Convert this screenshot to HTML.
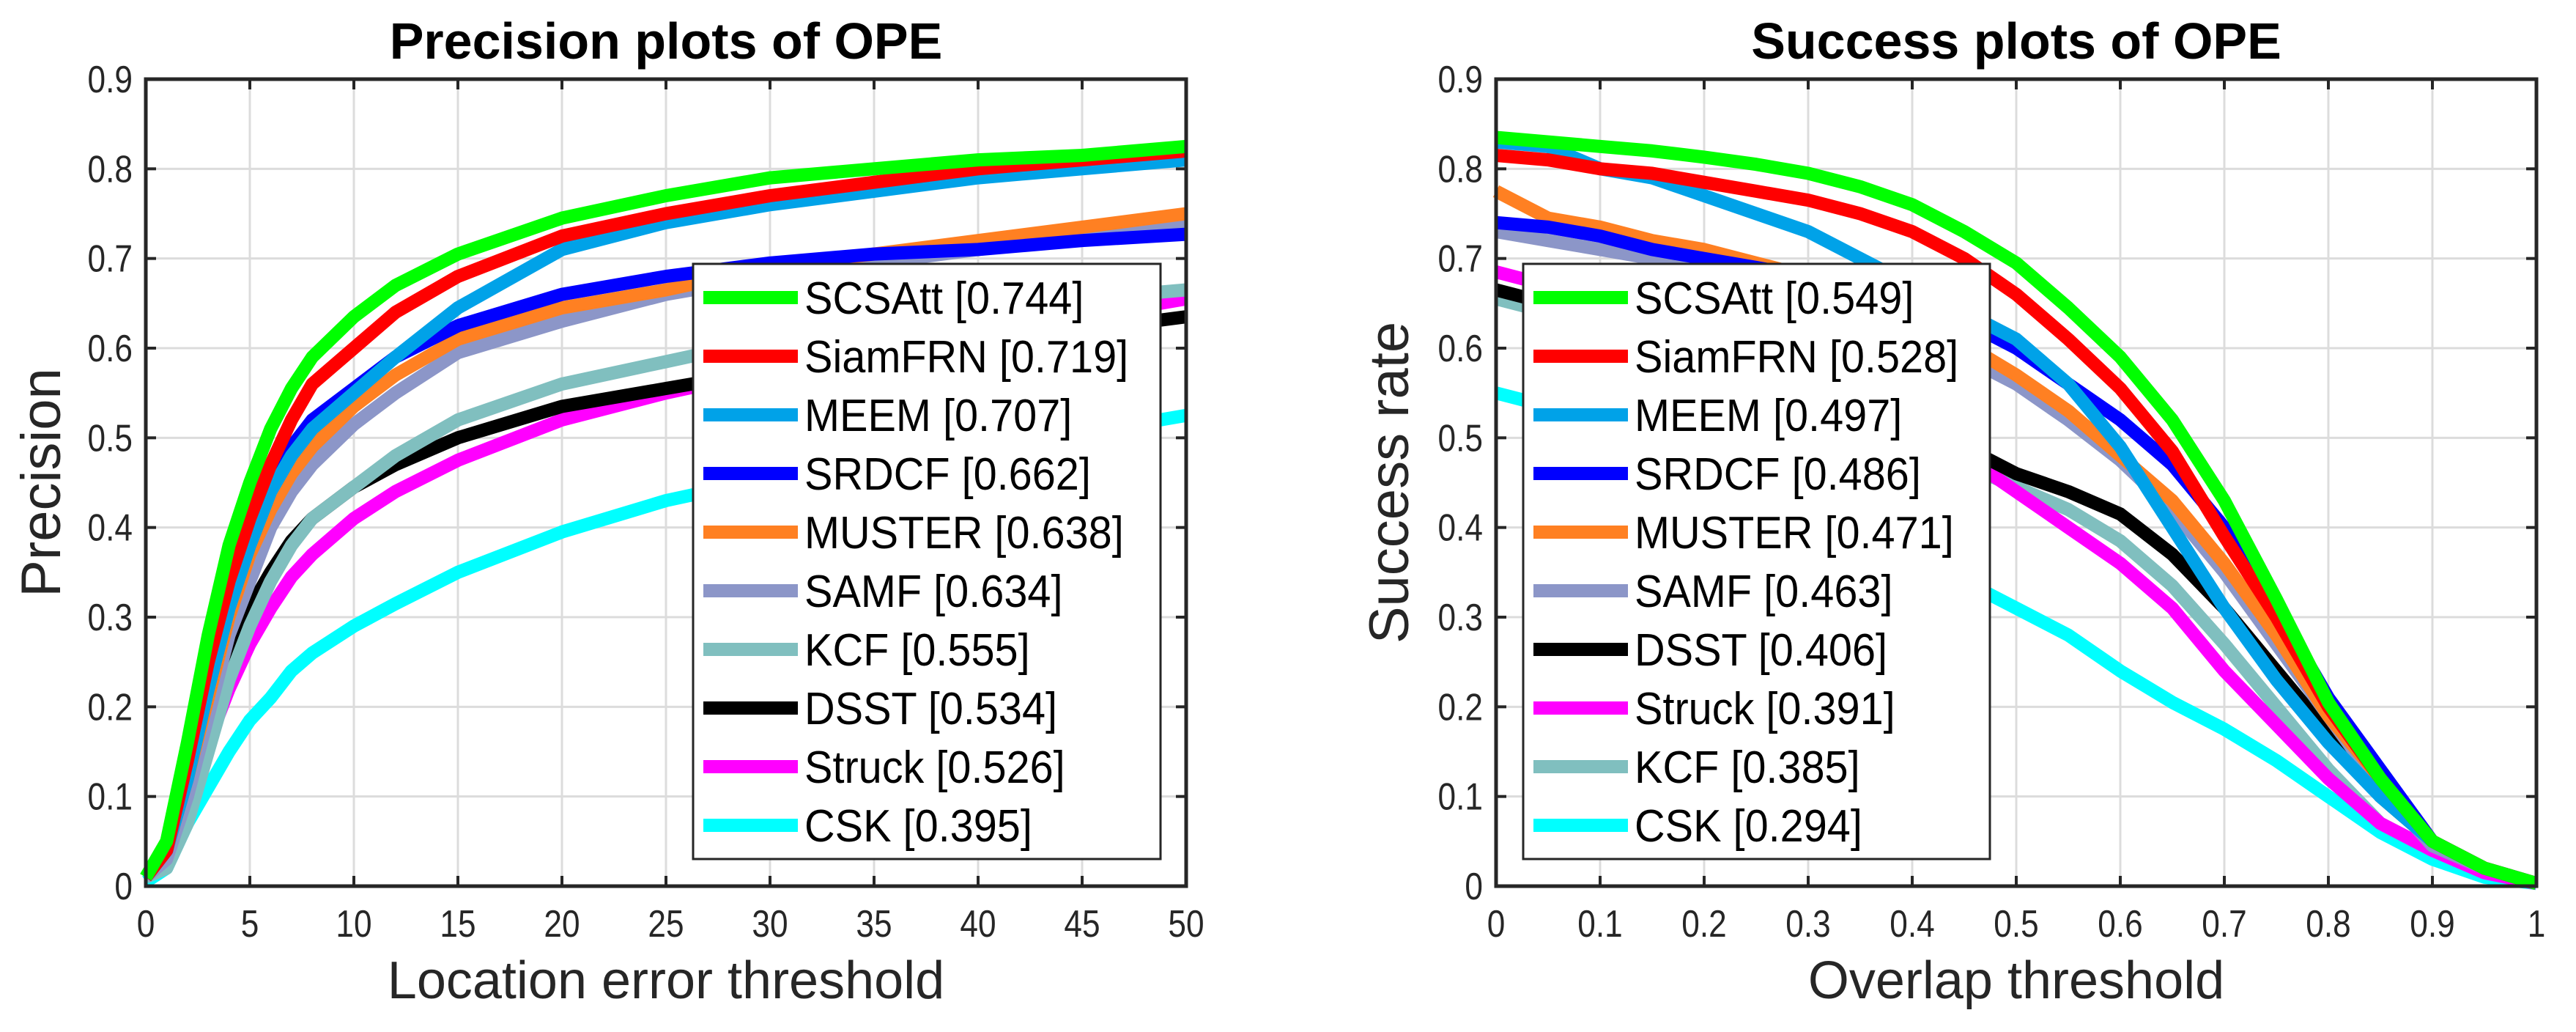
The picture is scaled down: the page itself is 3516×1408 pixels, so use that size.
<!DOCTYPE html>
<html><head><meta charset="utf-8"><style>
html,body{margin:0;padding:0;background:#fff;}
svg{display:block;font-family:"Liberation Sans",Arial,sans-serif;}
</style></head><body>
<svg id="c" width="3516" height="1408" viewBox="0 0 3516 1408" xmlns="http://www.w3.org/2000/svg"></svg>
<script>
const precX = [0,1,2,3,4,5,6,7,8,10,12,15,20,25,30,35,40,45,50];
const precNames = ["SCSAtt [0.744]","SiamFRN [0.719]","MEEM [0.707]","SRDCF [0.662]","MUSTER [0.638]","SAMF [0.634]","KCF [0.555]","DSST [0.534]","Struck [0.526]","CSK [0.395]"];
const precColors = ["#00ff00","#ff0000","#00a2e8","#0000ff","#ff8022","#8c96c8","#80bfbf","#000000","#ff00ff","#00ffff"];
const precSCSAtt = [0.01,0.05,0.16,0.28,0.38,0.45,0.51,0.555,0.59,0.635,0.67,0.705,0.745,0.77,0.79,0.80,0.81,0.815,0.825];
const precSiamFRN = [0.01,0.04,0.14,0.25,0.34,0.41,0.47,0.52,0.56,0.60,0.64,0.68,0.725,0.75,0.77,0.785,0.80,0.81,0.82];
const precMEEM = [0.01,0.04,0.12,0.22,0.31,0.38,0.44,0.48,0.51,0.55,0.59,0.645,0.71,0.74,0.76,0.775,0.79,0.80,0.81];
const precSRDCF = [0.01,0.04,0.13,0.23,0.32,0.39,0.45,0.49,0.52,0.555,0.59,0.625,0.66,0.68,0.695,0.705,0.71,0.72,0.727];
const precMUSTER = [0.01,0.04,0.12,0.21,0.30,0.37,0.42,0.46,0.49,0.535,0.57,0.61,0.645,0.665,0.69,0.705,0.72,0.735,0.75];
const precSAMF = [0.01,0.03,0.10,0.19,0.28,0.34,0.40,0.44,0.47,0.515,0.55,0.595,0.63,0.66,0.68,0.695,0.71,0.725,0.74];
const precKCF = [0.01,0.02,0.07,0.15,0.23,0.29,0.34,0.38,0.41,0.445,0.48,0.52,0.56,0.585,0.61,0.63,0.645,0.655,0.665];
const precDSST = [0.01,0.04,0.11,0.18,0.25,0.31,0.35,0.385,0.41,0.445,0.47,0.50,0.535,0.555,0.575,0.59,0.605,0.62,0.635];
const precStruck = [0.01,0.03,0.09,0.16,0.22,0.27,0.31,0.345,0.37,0.41,0.44,0.475,0.52,0.55,0.575,0.595,0.615,0.635,0.655];
const precCSK = [0.005,0.02,0.07,0.11,0.15,0.185,0.21,0.24,0.26,0.29,0.315,0.35,0.395,0.43,0.455,0.475,0.49,0.505,0.525];
const precXTicks = ["0","5","10","15","20","25","30","35","40","45","50"];
const yTicks = ["0","0.1","0.2","0.3","0.4","0.5","0.6","0.7","0.8","0.9"];

const succX = [0,0.05,0.1,0.15,0.2,0.25,0.3,0.35,0.4,0.45,0.5,0.55,0.6,0.65,0.7,0.75,0.8,0.85,0.9,0.95,1];
const succNames = ["SCSAtt [0.549]","SiamFRN [0.528]","MEEM [0.497]","SRDCF [0.486]","MUSTER [0.471]","SAMF [0.463]","DSST [0.406]","Struck [0.391]","KCF [0.385]","CSK [0.294]"];
const succColors = ["#00ff00","#ff0000","#00a2e8","#0000ff","#ff8022","#8c96c8","#000000","#ff00ff","#80bfbf","#00ffff"];
const succSCSAtt = [0.835,0.83,0.825,0.82,0.813,0.805,0.795,0.78,0.76,0.73,0.695,0.645,0.59,0.52,0.43,0.32,0.205,0.12,0.05,0.02,0.003];
const succSiamFRN = [0.815,0.81,0.80,0.795,0.785,0.775,0.765,0.75,0.73,0.70,0.66,0.61,0.555,0.485,0.39,0.30,0.20,0.12,0.05,0.02,0.003];
const succMEEM = [0.83,0.825,0.80,0.79,0.77,0.75,0.73,0.70,0.67,0.64,0.61,0.56,0.49,0.40,0.31,0.23,0.16,0.10,0.05,0.02,0.003];
const succSRDCF = [0.74,0.735,0.725,0.71,0.70,0.69,0.68,0.665,0.65,0.63,0.60,0.56,0.52,0.47,0.40,0.31,0.21,0.13,0.05,0.02,0.003];
const succMUSTER = [0.775,0.745,0.735,0.72,0.71,0.695,0.68,0.655,0.63,0.605,0.57,0.53,0.48,0.43,0.36,0.28,0.19,0.12,0.05,0.02,0.003];
const succSAMF = [0.73,0.72,0.71,0.70,0.69,0.675,0.66,0.64,0.62,0.59,0.56,0.52,0.475,0.42,0.35,0.27,0.19,0.11,0.045,0.02,0.003];
const succDSST = [0.665,0.65,0.635,0.62,0.60,0.58,0.56,0.54,0.52,0.49,0.46,0.44,0.415,0.37,0.31,0.24,0.17,0.10,0.05,0.02,0.003];
const succStruck = [0.685,0.67,0.655,0.64,0.62,0.60,0.575,0.545,0.515,0.48,0.44,0.40,0.36,0.31,0.24,0.18,0.12,0.07,0.04,0.015,0.003];
const succKCF = [0.655,0.64,0.625,0.61,0.59,0.57,0.55,0.525,0.50,0.47,0.445,0.42,0.385,0.335,0.27,0.20,0.13,0.07,0.04,0.015,0.003];
const succCSK = [0.55,0.535,0.52,0.50,0.48,0.46,0.43,0.40,0.37,0.34,0.31,0.28,0.24,0.205,0.175,0.14,0.10,0.06,0.03,0.01,0.003];
const succXTicks = ["0","0.1","0.2","0.3","0.4","0.5","0.6","0.7","0.8","0.9","1"];

const NS="http://www.w3.org/2000/svg";
const svg=document.getElementById('c');
function mk(tag,attrs,parent){const e=document.createElementNS(NS,tag);for(const k in attrs)e.setAttribute(k,attrs[k]);(parent||svg).appendChild(e);return e;}
function ctext(x,y,sxk,attrs,parent){attrs.x=0;attrs.y=0;attrs.transform=`translate(${x},${y}) scale(${sxk},1)`;return mk('text',attrs,parent);}

function plot(o){
  const L=o.left,R=o.left+1420,T=108,B=1209;
  const sx=v=>L+(v-o.xmin)/(o.xmax-o.xmin)*(R-L);
  const sy=v=>B-v/0.9*(B-T);
  const g=mk('g',{});
  
  
  o.xticks.forEach((t,i)=>{const x=sx(o.xmin+i*(o.xmax-o.xmin)/(o.xticks.length-1));
    const l=mk('line',{x1:x,x2:x,y1:T,y2:B,stroke:'#dcdcdc','stroke-width':3},g);
    });
  yTicks.forEach((t,i)=>{const y=sy(i*0.1);
    const l=mk('line',{x1:L,x2:R,y1:y,y2:y,stroke:'#dcdcdc','stroke-width':3},g);
    });
  for(let k=o.series.length-1;k>=0;k--){
    const d=o.series[k].map((v,i)=>(i?'L':'M')+sx(o.x[i]).toFixed(1)+','+sy(v).toFixed(1)).join('');
    const p=mk('path',{d:d,fill:'none',stroke:o.colors[k],'stroke-width':18,'stroke-linejoin':'round'},g);
    
    
  }
  const bx=mk('rect',{x:L,y:T,width:R-L,height:B-T,fill:'none',stroke:'#262626','stroke-width':5},g);
  
  o.xticks.forEach((t,i)=>{const x=sx(o.xmin+i*(o.xmax-o.xmin)/(o.xticks.length-1));
    mk('line',{x1:x,x2:x,y1:B,y2:B-14,stroke:'#262626','stroke-width':4},g);
    mk('line',{x1:x,x2:x,y1:T,y2:T+14,stroke:'#262626','stroke-width':4},g);
    const tx=ctext(x,1278,0.85,{'font-size':52,fill:'#262626','text-anchor':'middle'},g);
    tx.textContent=t;});
  yTicks.forEach((t,i)=>{const y=sy(i*0.1);
    mk('line',{x1:L,x2:L+14,y1:y,y2:y,stroke:'#262626','stroke-width':4},g);
    mk('line',{x1:R,x2:R-14,y1:y,y2:y,stroke:'#262626','stroke-width':4},g);
    const tx=ctext(L-18,y+18,0.85,{'font-size':52,fill:'#262626','text-anchor':'end'},g);
    tx.textContent=t;});
  const ti=mk('text',{x:(L+R)/2,y:80,'font-size':70,'font-weight':'bold',fill:'#000','text-anchor':'middle'},g);
  ti.textContent=o.title;
  const xl=mk('text',{x:(L+R)/2,y:1362,'font-size':72,fill:'#262626','text-anchor':'middle'},g);
  xl.textContent=o.xlabel;
  const yl=mk('text',{x:0,y:0,'font-size':76,fill:'#262626','text-anchor':'middle',transform:`translate(${o.ylx},${(T+B)/2}) rotate(-90)`},g);
  yl.textContent=o.ylabel;
  const lg=mk('g',{},g);
  
  mk('rect',{x:o.legX,y:360,width:o.legW,height:812,fill:'#fff',stroke:'#262626','stroke-width':3},lg);
  o.names.forEach((n,i)=>{const y=406+i*80;
    const e=mk('g',{},lg);
    
    mk('line',{x1:o.legX+14,x2:o.legX+143,y1:y,y2:y,stroke:o.colors[i],'stroke-width':18},e);
    const t=ctext(o.legX+152,y+22,0.93,{'font-size':62,fill:'#000'},e);t.textContent=n;});
}
plot({id:'precision',left:199,xmin:0,xmax:50,x:precX,xticks:precXTicks,title:'Precision plots of OPE',xlabel:'Location error threshold',ylabel:'Precision',ylx:82,
  names:precNames,colors:precColors,series:[precSCSAtt,precSiamFRN,precMEEM,precSRDCF,precMUSTER,precSAMF,precKCF,precDSST,precStruck,precCSK],legX:946,legW:638});
plot({id:'success',left:2042,xmin:0,xmax:1,x:succX,xticks:succXTicks,title:'Success plots of OPE',xlabel:'Overlap threshold',ylabel:'Success rate',ylx:1922,
  names:succNames,colors:succColors,series:[succSCSAtt,succSiamFRN,succMEEM,succSRDCF,succMUSTER,succSAMF,succDSST,succStruck,succKCF,succCSK],legX:2079,legW:637});
</script>
</body></html>
